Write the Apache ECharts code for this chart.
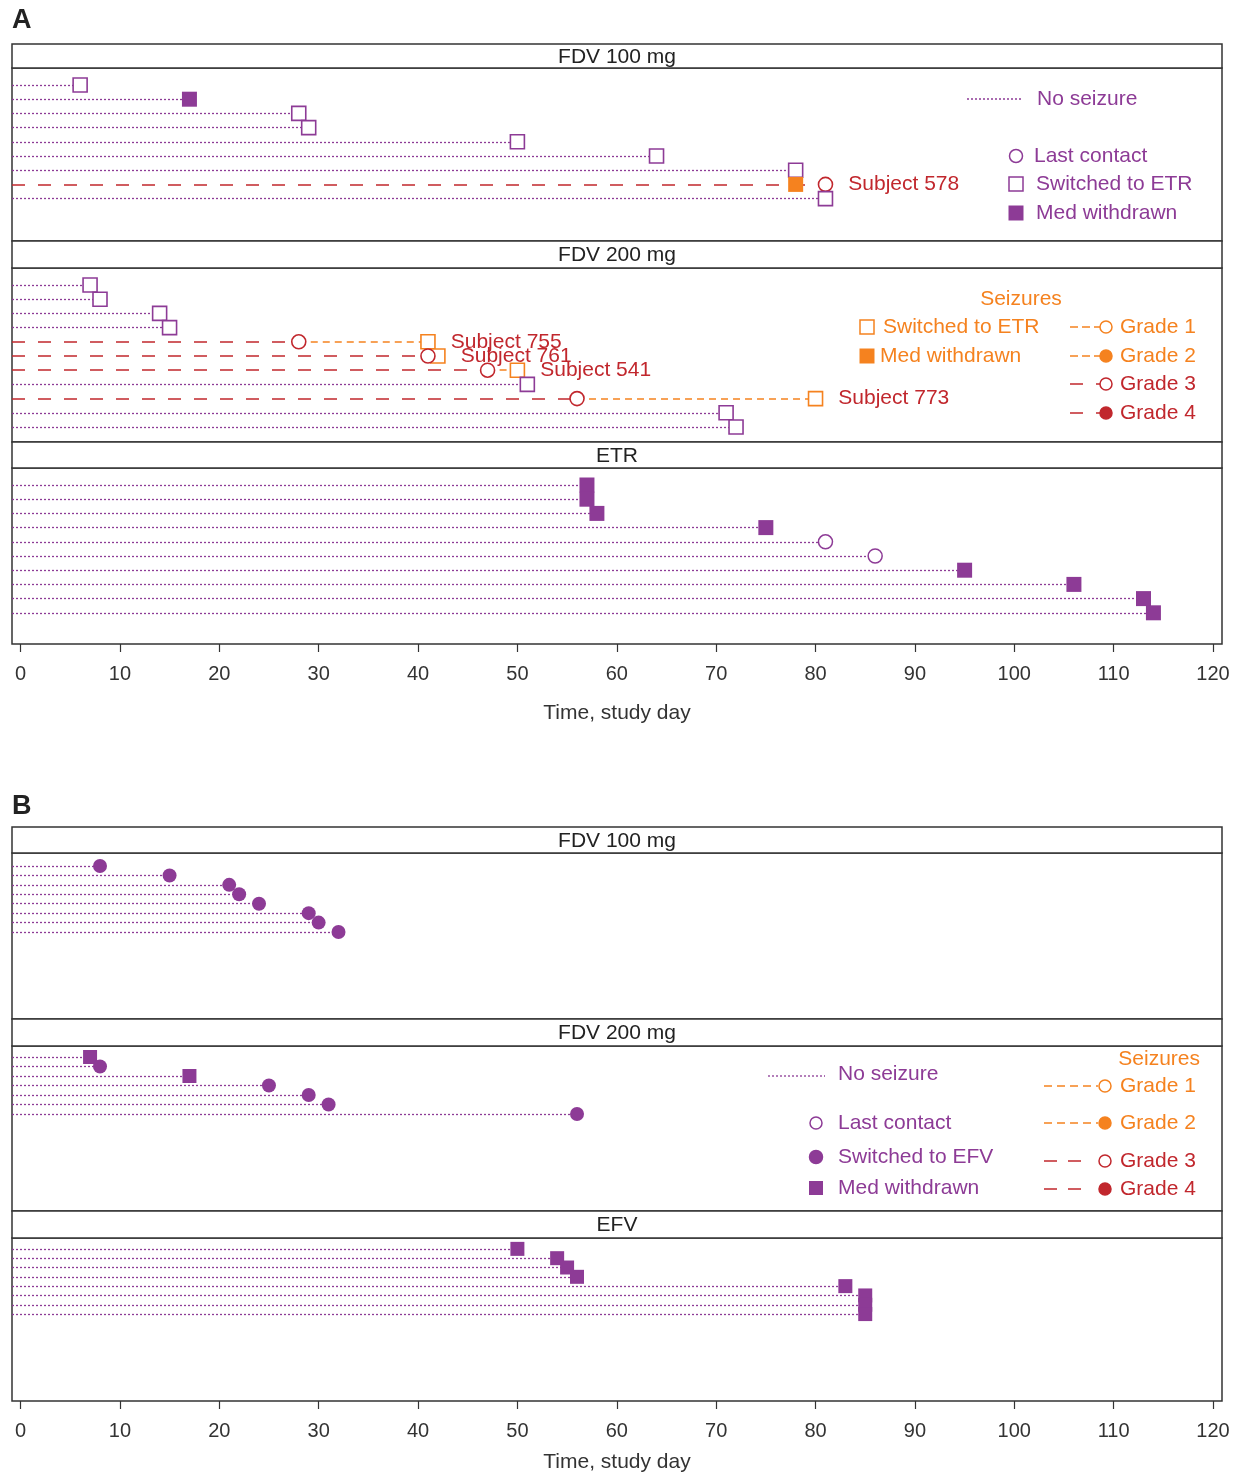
<!DOCTYPE html>
<html>
<head>
<meta charset="utf-8">
<script src="https://cdn.jsdelivr.net/npm/echarts@6/dist/echarts.min.js"></script>
<style>
html, body { margin: 0; padding: 0; background: #fff; }
#chart { width: 1242px; height: 1474px; }
</style>
</head>
<body>
<div id="chart"></div>
<script>
// tick labels of the shared time axis
const xTicks = [0, 10, 20, 30, 40, 50, 60, 70, 80, 90, 100, 110, 120];

// Panel A, FDV 100 mg
const a100End = [6, 17, 28, 29, 50, 64, 78, 78, 81];
const a100Mark = ['sw', 'wd', 'sw', 'sw', 'sw', 'sw', 'sw', 'wdS', 'sw'];
const a100Seiz = [null, null, null, null, null, null, null, 81, null];
const a100Subj = [null, null, null, null, null, null, null, 'Subject 578', null];

// Panel A, FDV 200 mg
const a200End = [7, 8, 14, 15, 41, 42, 50, 51, 80, 71, 72];
const a200Mark = ['sw', 'sw', 'sw', 'sw', 'swS', 'swS', 'swS', 'sw', 'swS', 'sw', 'sw'];
const a200Seiz = [null, null, null, null, 28, 41, 47, null, 56, null, null];
const a200Subj = [null, null, null, null, 'Subject 755', 'Subject 761', 'Subject 541', null, 'Subject 773', null, null];

// Panel A, ETR
const etrEnd = [57, 57, 58, 75, 81, 86, 95, 106, 113, 114];
const etrMark = ['wd', 'wd', 'wd', 'wd', 'lc', 'lc', 'wd', 'wd', 'wd', 'wd'];

// Panel B, FDV 100 mg
const b100End = [8, 15, 21, 22, 24, 29, 30, 32];
const b100Mark = ['sE', 'sE', 'sE', 'sE', 'sE', 'sE', 'sE', 'sE'];

// Panel B, FDV 200 mg
const b200End = [7, 8, 17, 25, 29, 31, 56];
const b200Mark = ['wdB', 'sE', 'wdB', 'sE', 'sE', 'sE', 'sE'];

// Panel B, EFV
const efvEnd = [50, 54, 55, 56, 83, 85, 85, 85];
const efvMark = ['wdB', 'wdB', 'wdB', 'wdB', 'wdB', 'wdB', 'wdB', 'wdB'];

const purple = '#8D3B96';
const orange = '#F5821F';
const red = '#C1272D';
const font = '"Liberation Sans", Arial, sans-serif';

const markStyle = {
  sw: { symbol: 'rect', symbolSize: 14, itemStyle: { color: '#fff', borderColor: purple, borderWidth: 1.6, opacity: 1 } },
  wd: { symbol: 'rect', symbolSize: 15, itemStyle: { color: purple, opacity: 1 } },
  lc: { symbol: 'circle', symbolSize: 14, itemStyle: { color: '#fff', borderColor: purple, borderWidth: 1.5, opacity: 1 } },
  sE: { symbol: 'circle', symbolSize: 14, itemStyle: { color: purple, opacity: 1 } },
  wdB: { symbol: 'rect', symbolSize: 14, itemStyle: { color: purple, opacity: 1 } },
  swS: { symbol: 'rect', symbolSize: 14, itemStyle: { color: '#fff', borderColor: orange, borderWidth: 1.6, opacity: 1 } },
  wdS: { symbol: 'rect', symbolSize: 15, itemStyle: { color: orange, opacity: 1 } },
  g3: { symbol: 'circle', symbolSize: 14, itemStyle: { color: '#fff', borderColor: red, borderWidth: 1.6, opacity: 1 } }
};

// layout of the six facets
const left = 12, width = 1210;
const dayMin = -0.855, dayMax = 120.9;
const facets = [
  { name: 'FDV 100 mg', strip: 44, top: 68, height: 173, first: 17, gap: 14.2, end: a100End, mark: a100Mark, seiz: a100Seiz, subj: a100Subj },
  { name: 'FDV 200 mg', strip: 241, top: 268, height: 174, first: 17, gap: 14.2, end: a200End, mark: a200Mark, seiz: a200Seiz, subj: a200Subj },
  { name: 'ETR', strip: 442, top: 468, height: 176, first: 17, gap: 14.2, end: etrEnd, mark: etrMark, axis: true, nameGap: 59 },
  { name: 'FDV 100 mg', strip: 827, top: 853, height: 166, first: 13, gap: 9.43, end: b100End, mark: b100Mark },
  { name: 'FDV 200 mg', strip: 1019, top: 1046, height: 165, first: 11, gap: 9.5, end: b200End, mark: b200Mark },
  { name: 'EFV', strip: 1211, top: 1238, height: 165, first: 11, gap: 9.43, end: efvEnd, mark: efvMark, axis: true, nameGap: 51 }
];

const grid = [], xAxis = [], yAxis = [], series = [], graphic = [];

facets.forEach((f, i) => {
  grid.push({ left: left, top: f.top, width: width, height: f.height, show: true,
    borderColor: '#333', borderWidth: 1.5, backgroundColor: 'transparent' });
  xAxis.push({
    gridIndex: i, type: 'value', min: dayMin, max: dayMax,
    splitLine: { show: false }, axisLine: { show: false, onZero: false },
    axisTick: { show: !!f.axis, customValues: xTicks, length: 8, lineStyle: { color: '#333', width: 1.2 } },
    axisLabel: { show: !!f.axis, customValues: xTicks, margin: 20, fontSize: 20, color: '#333', fontFamily: font },
    name: f.axis ? 'Time, study day' : '', nameLocation: 'middle', nameGap: f.nameGap || 0,
    nameTextStyle: { fontSize: 21, color: '#333', fontFamily: font }
  });
  yAxis.push({ gridIndex: i, type: 'value', inverse: true, show: false,
    min: -f.first / f.gap, max: (f.height - f.first) / f.gap });

  const segs = [], pts = [];
  f.end.forEach((end, r) => {
    const s = f.seiz ? f.seiz[r] : null;
    if (s == null) {
      segs.push({ coords: [[dayMin, r], [end, r]], lineStyle: { color: purple, type: [2, 2], width: 1.3, opacity: 1 } });
    } else {
      segs.push({ coords: [[dayMin, r], [s, r]], lineStyle: { color: red, type: [13, 13], width: 1.5, opacity: 1 } });
      if (end > s) segs.push({ coords: [[s, r], [end, r]], lineStyle: { color: orange, type: [7, 5], width: 1.5, opacity: 1 } });
    }
    const lastDay = s != null ? Math.max(s, end) : end;
    const label = f.subj && f.subj[r] ? {
      show: true, position: 'right', distance: 15, formatter: f.subj[r],
      color: red, fontSize: 21, fontFamily: font
    } : { show: false };
    const m = markStyle[f.mark[r]];
    pts.push(Object.assign({ value: [end, r], label: end === lastDay ? label : { show: false } }, m));
    if (s != null) pts.push(Object.assign({ value: [s, r], label: s > end ? label : { show: false } }, markStyle.g3));
  });

  series.push({ type: 'lines', coordinateSystem: 'cartesian2d', xAxisIndex: i, yAxisIndex: i,
    silent: true, z: 2, lineStyle: { opacity: 1 }, data: segs });
  series.push({ type: 'scatter', xAxisIndex: i, yAxisIndex: i, silent: true, z: 3,
    itemStyle: { opacity: 1 }, data: pts });

  graphic.push({ type: 'rect', shape: { x: left, y: f.strip, width: width, height: f.top - f.strip },
    style: { fill: '#fff', stroke: '#333', lineWidth: 1.5 } });
  graphic.push({ type: 'text', x: 617, y: (f.strip + f.top) / 2 + 1,
    style: { text: f.name, fill: '#222', font: '21px ' + font, align: 'center', verticalAlign: 'middle' } });
});

// panel letters
graphic.push({ type: 'text', x: 12, y: 21, style: { text: 'A', fill: '#222', font: 'bold 27px ' + font, verticalAlign: 'middle' } });
graphic.push({ type: 'text', x: 12, y: 807, style: { text: 'B', fill: '#222', font: 'bold 27px ' + font, verticalAlign: 'middle' } });

function txt(x, y, t, color, align) {
  return { type: 'text', x: x, y: y, z: 10,
    style: { text: t, fill: color, font: '21px ' + font, align: align || 'left', verticalAlign: 'middle' } };
}
function hline(x1, x2, y, color, dash, w) {
  return { type: 'line', z: 10, shape: { x1: x1, y1: y, x2: x2, y2: y },
    style: { stroke: color, lineWidth: w || 1.5, lineDash: dash } };
}
function circ(cx, cy, r, color, filled) {
  return { type: 'circle', z: 11, shape: { cx: cx, cy: cy, r: r },
    style: { fill: filled ? color : '#fff', stroke: color, lineWidth: 1.5 } };
}
function sq(cx, cy, s, color, filled) {
  return { type: 'rect', z: 11, shape: { x: cx - s / 2, y: cy - s / 2, width: s, height: s },
    style: { fill: filled ? color : '#fff', stroke: color, lineWidth: filled ? 0 : 1.5 } };
}

// legend, panel A
graphic.push(
  hline(967, 1022, 99, purple, [2, 2], 1.3), txt(1037, 99, 'No seizure', purple),
  circ(1016, 156, 6.5, purple, false), txt(1034, 156, 'Last contact', purple),
  sq(1016, 184, 14, purple, false), txt(1036, 184, 'Switched to ETR', purple),
  sq(1016, 213, 15, purple, true), txt(1036, 213, 'Med withdrawn', purple),
  txt(1021, 299, 'Seizures', orange, 'center'),
  sq(867, 327, 14, orange, false), txt(883, 327, 'Switched to ETR', orange),
  sq(867, 356, 15, orange, true), txt(880, 356, 'Med withdrawn', orange),
  hline(1070, 1100, 327, orange, [8, 4]), circ(1106, 327, 6, orange, false), txt(1120, 327, 'Grade 1', orange),
  hline(1070, 1100, 356, orange, [8, 4]), circ(1106, 356, 6, orange, true), txt(1120, 356, 'Grade 2', orange),
  hline(1070, 1100, 384, red, [13, 13]), circ(1106, 384, 6, red, false), txt(1120, 384, 'Grade 3', red),
  hline(1070, 1100, 413, red, [13, 13]), circ(1106, 413, 6, red, true), txt(1120, 413, 'Grade 4', red)
);

// legend, panel B
graphic.push(
  hline(768, 825, 1076, purple, [2, 2], 1.3), txt(838, 1074, 'No seizure', purple),
  circ(816, 1123, 6, purple, false), txt(838, 1123, 'Last contact', purple),
  circ(816, 1157, 6.5, purple, true), txt(838, 1157, 'Switched to EFV', purple),
  sq(816, 1188, 14, purple, true), txt(838, 1188, 'Med withdrawn', purple),
  txt(1200, 1059, 'Seizures', orange, 'right'),
  hline(1044, 1098, 1086, orange, [8, 5]), circ(1105, 1086, 6, orange, false), txt(1120, 1086, 'Grade 1', orange),
  hline(1044, 1098, 1123, orange, [8, 5]), circ(1105, 1123, 6, orange, true), txt(1120, 1123, 'Grade 2', orange),
  hline(1044, 1090, 1161, red, [13, 11]), circ(1105, 1161, 6, red, false), txt(1120, 1161, 'Grade 3', red),
  hline(1044, 1090, 1189, red, [13, 11]), circ(1105, 1189, 6, red, true), txt(1120, 1189, 'Grade 4', red)
);

const chart = echarts.init(document.getElementById('chart'));
chart.setOption({
  animation: false,
  backgroundColor: '#fff',
  grid: grid,
  xAxis: xAxis,
  yAxis: yAxis,
  series: series,
  graphic: graphic
});
</script>
</body>
</html>
